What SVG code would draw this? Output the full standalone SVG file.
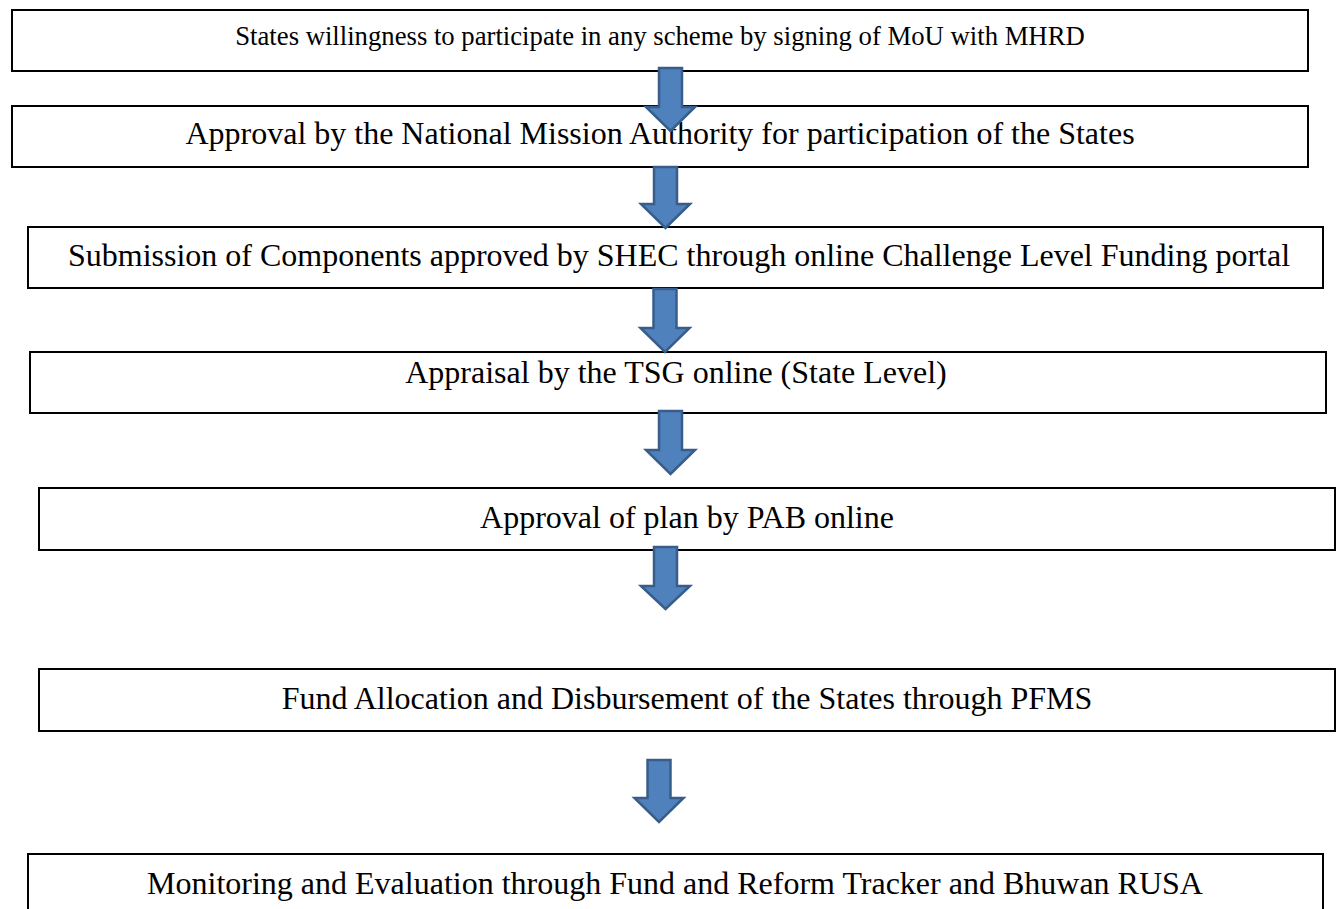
<svg xmlns="http://www.w3.org/2000/svg" width="1341" height="909" viewBox="0 0 1341 909">
<style>
.box{fill:#ffffff;stroke:#000000;stroke-width:2}
.lbl{font-family:"Liberation Serif","Times New Roman",serif;font-size:32px;fill:#000000;text-anchor:middle}
.small{font-size:26.7px}
.arr{fill:#4F81BD;stroke:#385D8A;stroke-width:2.5;stroke-linejoin:miter}
</style>
<rect x="0" y="0" width="1341" height="909" fill="#ffffff"/>
<g id="node1"><rect class="box" x="12" y="10" width="1296" height="61"/><text class="lbl small" x="660" y="45">States willingness to participate in any scheme by signing of MoU with MHRD</text></g>
<g id="node2"><rect class="box" x="12" y="106" width="1296" height="61"/><text class="lbl" x="660" y="144">Approval by the National Mission Authority for participation of the States</text></g>
<g id="node3"><rect class="box" x="28" y="227" width="1295" height="61"/><text class="lbl" x="679" y="266">Submission of Components approved by SHEC through online Challenge Level Funding portal</text></g>
<g id="node4"><rect class="box" x="30" y="352" width="1296" height="61"/><text class="lbl" x="676" y="383">Appraisal by the TSG online (State Level)</text></g>
<g id="node5"><rect class="box" x="39" y="488" width="1296" height="62"/><text class="lbl" x="687" y="528">Approval of plan by PAB online</text></g>
<g id="node6"><rect class="box" x="39" y="669" width="1296" height="62"/><text class="lbl" x="687" y="709">Fund Allocation and Disbursement of the States through PFMS</text></g>
<g id="node7"><rect class="box" x="28" y="854" width="1295" height="70"/><text class="lbl" x="675" y="894">Monitoring and Evaluation through Fund and Reform Tracker and Bhuwan RUSA</text></g>
<g id="connectors">
<path class="arr" d="M659,68 H682 V107 H695 L670.5,131 L646,107 H659 Z"/>
<path class="arr" d="M654,167 H677 V204 H690 L665.5,228 L641,204 H654 Z"/>
<path class="arr" d="M653.5,289 H676.5 V328 H689.5 L665,352 L640.5,328 H653.5 Z"/>
<path class="arr" d="M659,411 H682 V450 H695 L670.5,474 L646,450 H659 Z"/>
<path class="arr" d="M654,547 H677 V586 H690 L665.5,609 L641,586 H654 Z"/>
<path class="arr" d="M647.5,760 H670.5 V798 H683.5 L659,822 L634.5,798 H647.5 Z"/>
</g>
</svg>
